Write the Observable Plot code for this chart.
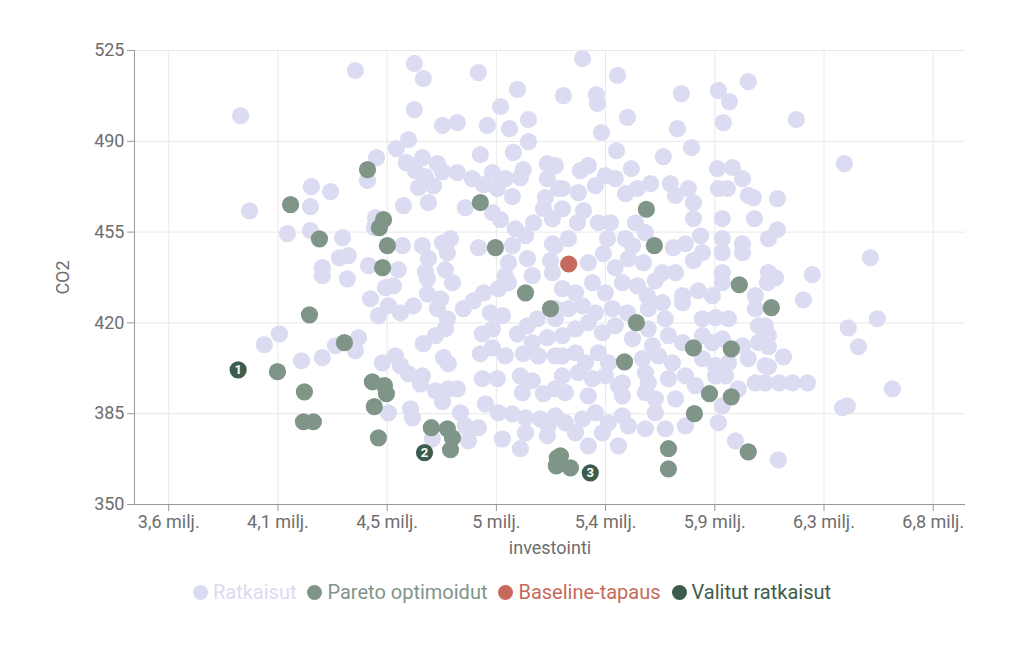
<!DOCTYPE html>
<html>
<head>
<meta charset="utf-8">
<script src="https://cdn.jsdelivr.net/npm/d3@7"></script>
<script src="https://cdn.jsdelivr.net/npm/@observablehq/plot@0.6"></script>
<style>
  html, body { margin: 0; padding: 0; background: #fff; }
  body { width: 1024px; height: 645px; overflow: hidden; font-family: Roboto, "Noto Sans", sans-serif; }
  #legend { display: flex; justify-content: center; align-items: center; gap: 11px; margin-top: 17px; margin-left: 0px; font-size: 20px; line-height: 20px; }
  #legend .item { display: flex; align-items: center; }
  #legend .sw { width: 15px; height: 15px; border-radius: 50%; margin-right: 5px; }
</style>
</head>
<body>
<div id="chart"></div>
<div id="legend"></div>
<script>
// ---- Data (investointi in millions of euros, CO2) ----
const xTicks = [3.65, 4.1, 4.55, 5.0, 5.45, 5.9, 6.35, 6.8];
const xTickLabels = ["3,6 milj.", "4,1 milj.", "4,5 milj.", "5 milj.", "5,4 milj.", "5,9 milj.", "6,3 milj.", "6,8 milj."];
const yTicks = [350, 385, 420, 455, 490, 525];

const ratkaisut = [
[3.946,499.9],[3.983,463.2],[4.139,454.4],[4.238,472.5],[4.317,470.6],[4.234,464.8],[4.234,455.6],[4.366,452.9],[4.353,445.1],[4.390,445.9],
[4.283,441.3],[4.386,437.0],[4.283,438.2],[4.044,411.6],[4.106,415.8],[4.197,405.4],[4.283,406.6],[4.337,411.2],
[4.419,517.3],[4.662,520.0],[4.699,514.2],[4.926,516.5],[5.087,510.0],[4.662,502.2],[5.017,503.4],[5.132,498.4],[4.778,496.1],
[4.839,497.2],[4.963,496.1],[5.054,494.9],[5.132,489.9],[4.638,490.7],[4.588,487.2],[4.506,483.7],[4.934,484.9],[5.070,485.7],[4.629,481.8],
[4.695,483.7],[4.757,481.4],[4.666,478.7],[4.707,476.4],[4.778,478.3],[4.839,477.9],[4.901,475.6],[4.984,477.9],[5.037,475.6],[5.111,479.1],
[5.099,476.0],[5.210,481.4],[5.210,475.6],[5.256,471.8],[4.469,474.9],[4.679,472.2],[4.741,472.9],[4.947,473.3],[5.004,471.8],[5.066,468.7],
[4.720,466.4],[4.617,465.2],[4.872,464.4],[4.984,462.5],[5.017,459.8],[5.202,468.3],[5.194,464.1],[5.153,458.6],[5.231,460.2],[5.078,456.3],
[5.120,453.6],[4.502,460.6],[4.497,456.7],[4.613,449.8],[4.695,449.8],[4.778,450.9],[4.811,452.5],[4.798,447.1],
[4.926,449.0],[4.720,444.8],[4.473,442.1],[4.596,440.5],[4.708,439.7],[4.790,440.5],[5.066,449.8],[5.050,443.2],[5.128,444.8],[5.231,450.5],
[5.223,444.0],[5.037,438.2],[5.148,438.2],[5.231,439.4],
[5.355,521.9],[5.499,515.4],[5.276,507.6],[5.412,508.0],[5.416,504.6],[5.762,508.4],[5.915,509.6],[5.960,505.3],[6.038,513.0],[5.540,499.2],
[5.433,493.4],[5.746,494.9],[5.935,497.2],[5.495,486.4],[5.688,484.1],[5.804,487.6],[5.556,479.5],[5.911,479.5],[5.973,479.9],[6.014,475.6],
[6.059,468.3],[6.038,469.1],[5.915,471.8],[5.952,471.8],[5.379,480.6],[5.346,478.7],[5.243,480.6],[5.272,471.8],[5.338,470.2],[5.408,472.9],
[5.449,476.8],[5.490,475.6],[5.532,469.8],[5.581,471.8],[5.635,473.7],[5.717,473.7],[5.738,469.1],[5.791,471.8],[5.812,466.3],[5.812,460.2],
[5.931,460.2],[6.063,460.2],[5.272,464.0],[5.359,463.3],[5.334,458.6],[5.420,458.6],[5.470,458.6],[5.573,458.6],[5.614,454.8],[5.532,452.5],
[5.458,452.5],[5.297,452.5],[5.243,449.8],[5.441,446.7],[5.561,449.8],[5.729,449.0],[5.779,450.5],[5.841,453.6],[5.849,447.1],[5.812,444.0],
[5.931,452.5],[5.931,447.1],[6.014,450.5],[6.014,447.1],[6.121,452.5],[5.379,443.2],[5.490,441.3],[5.544,444.8],[5.606,443.2],[5.684,439.4],
[5.738,439.4],[5.931,439.4],[6.121,439.4],
[6.236,498.4],[6.434,481.4],[6.158,467.9],[6.158,455.9],[6.541,445.1],[6.302,438.6],
[6.150,437.4],[6.265,428.9],[6.570,421.6],[6.450,418.1],[6.492,410.8],[6.121,410.8],[6.183,406.9],[6.121,403.1],[6.166,396.9],[6.220,396.9],
[6.282,396.9],[6.108,396.9],[6.632,394.6],[6.426,387.3],[6.446,388.0],[6.162,367.2],[6.108,418.9],
[4.481,429.3],[4.543,433.6],[4.576,434.3],[4.555,426.6],[4.514,422.8],[4.605,423.9],[4.658,426.6],[4.716,431.2],[4.770,429.3],
[4.757,425.5],[4.716,437.0],[4.819,435.5],[4.798,421.6],[4.790,417.8],[4.749,415.1],[4.699,412.0],[4.864,425.5],[4.905,428.5],[4.947,431.6],
[5.008,433.2],[5.050,435.5],[4.975,423.9],[5.025,422.8],[4.942,415.8],[4.984,417.7],[4.934,408.1],[4.984,410.4],[5.037,407.3],[5.087,415.8],
[5.128,418.9],[5.169,421.6],[5.210,414.3],[5.148,412.4],[5.111,408.1],[5.173,407.3],[5.243,421.6],[5.243,407.3],[4.432,414.3],[4.419,409.3],
[4.530,404.6],[4.584,407.3],[4.605,403.5],[4.638,400.4],[4.695,399.6],[4.687,396.5],[4.782,406.6],[4.802,404.3],[4.942,398.5],[5.004,398.5],
[5.099,399.6],[5.148,397.7],[4.749,393.8],[4.802,394.6],[4.839,394.6],[4.778,389.6],[5.107,393.1],[5.194,392.7],[5.243,394.6],[4.955,388.8],
[5.008,385.4],[5.066,384.9],[5.120,383.4],[5.181,383.0],[5.243,384.2],[4.555,385.3],[4.646,386.9],[4.654,383.4],[4.852,385.3],[4.872,380.3],
[4.926,379.6],[4.885,374.5],[4.736,375.3],[5.025,375.3],[5.120,377.6],[5.099,371.5],[5.210,376.5],[5.214,380.3],
[5.272,433.2],[5.326,431.6],[5.396,435.5],[5.449,431.6],[5.519,435.5],[5.581,434.3],[5.622,430.5],[5.684,427.8],[5.655,436.3],[5.767,430.5],
[5.767,427.8],[5.832,432.4],[5.890,430.5],[5.931,435.5],[6.067,430.5],[6.067,425.5],[6.117,435.5],[5.243,425.5],[5.297,425.5],[5.355,426.6],
[5.408,423.9],[5.478,425.5],[5.540,423.9],[5.626,425.5],[5.696,421.6],[5.849,421.6],[5.903,422.0],[5.956,421.6],[6.080,418.9],[5.272,415.1],
[5.326,417.7],[5.379,420.1],[5.437,416.2],[5.490,418.9],[5.561,413.9],[5.626,417.7],[5.643,411.2],[5.709,415.1],[5.767,412.4],[5.849,415.1],
[5.890,412.4],[5.931,413.9],[6.014,411.2],[6.080,412.4],[6.121,415.1],[5.272,407.3],[5.326,408.5],[5.367,404.6],[5.420,408.5],[5.462,404.6],
[5.602,406.2],[5.668,407.3],[5.725,404.6],[5.849,406.2],[5.903,403.5],[5.956,404.6],[6.038,406.2],[6.108,403.5],[5.272,399.6],[5.338,400.8],
[5.396,398.5],[5.449,399.6],[5.519,396.9],[5.614,400.8],[5.626,396.9],[5.709,398.5],[5.779,399.6],[5.820,395.8],[5.903,399.6],[5.944,399.6],
[5.997,394.6],[6.067,396.9],[5.284,393.1],[5.379,391.9],[5.503,395.8],[5.519,391.9],[5.614,393.1],[5.655,390.7],[5.738,390.7],[5.931,388.0],
[5.284,381.5],[5.355,383.0],[5.408,385.3],[5.462,381.5],[5.519,384.2],[5.544,380.3],[5.614,379.2],[5.655,385.3],[5.696,379.2],[5.779,380.3],
[5.915,381.5],[5.985,374.5],[5.379,372.6],[5.503,372.6],[5.326,377.6],[5.437,377.6]
];

const pareto = [
[4.469,479.1],[4.152,465.6],[4.271,452.4],[4.535,459.8],[4.518,456.7],[4.551,449.8],[4.531,441.3],[4.934,466.4],[4.996,449.0],[5.618,463.8],
[5.651,449.8],[5.120,431.6],[5.223,425.5],[4.374,412.4],[4.489,397.3],[4.539,395.8],[4.547,392.7],[4.497,387.7],[4.514,375.7],[4.732,379.6],
[4.798,379.2],[4.819,375.7],[4.811,371.1],[5.251,368.0],[5.247,364.9],[5.264,368.8],[5.305,364.1],[5.577,420.1],[5.528,405.0],[5.812,410.4],
[5.968,410.0],[5.878,392.7],[5.968,391.5],[5.816,385.0],[5.709,371.5],[5.709,363.7],[6.038,370.3],[6.001,434.7],[6.133,425.9],[4.230,423.1],
[4.098,401.2],[4.209,393.4],[4.205,381.9],[4.246,381.9]
];

const baseline = [[5.298, 442.7]];

const valitut = [[3.936, 401.9], [4.704, 370.0], [5.387, 362.2]];
const valitutLabels = ["1", "2", "3"];

const seriesNames = ["Ratkaisut", "Pareto optimoidut", "Baseline-tapaus", "Valitut ratkaisut"];
const seriesColors = ["#dbdbf2", "#7f9588", "#c66b5b", "#3c5c4d"];

// ---- Chart ----
const tickLabelOf = new Map(xTicks.map((t, i) => [t, xTickLabels[i]]));
const valitutData = valitut.map((d, i) => ({x: d[0], y: d[1], label: valitutLabels[i]}));
const R = 8.6;

const chart = Plot.plot({
  width: 1024,
  height: 565,
  marginTop: 50,
  marginBottom: 61,
  marginLeft: 134,
  marginRight: 59,
  style: {fontFamily: "Roboto, 'Noto Sans', sans-serif", fontSize: "18px", color: "#6e6e6e", background: "#fff"},
  x: {domain: [3.509, 6.933]},
  y: {domain: [350, 525]},
  marks: [
    Plot.gridX(xTicks, {stroke: "#e8e8e8", strokeOpacity: 1}),
    Plot.gridY(yTicks, {stroke: "#e8e8e8", strokeOpacity: 1}),
    Plot.axisX(xTicks, {tickFormat: d => tickLabelOf.get(d), tickSize: 7, tickPadding: 4, stroke: "#999", fontSize: 18, label: "investointi", labelAnchor: "center", labelArrow: "none", labelOffset: 49, fill: "#6e6e6e"}),
    Plot.axisY(yTicks, {tickSize: 7, tickPadding: 3, stroke: "#999", fontSize: 18, label: "CO2", labelAnchor: "center", labelArrow: "none", labelOffset: 78, fill: "#6e6e6e"}),
    Plot.ruleX([3.509], {stroke: "#999"}),
    Plot.ruleY([350], {stroke: "#999"}),
    Plot.dot(ratkaisut, {x: d => d[0], y: d => d[1], r: R, fill: seriesColors[0], stroke: "none"}),
    Plot.dot(pareto, {x: d => d[0], y: d => d[1], r: R, fill: seriesColors[1], stroke: "none"}),
    Plot.dot(baseline, {x: d => d[0], y: d => d[1], r: R, fill: seriesColors[2], stroke: "none"}),
    Plot.dot(valitutData, {x: "x", y: "y", r: R, fill: seriesColors[3], stroke: "none"}),
    Plot.text(valitutData, {x: "x", y: "y", text: "label", fill: "#fff", fontWeight: "bold", fontSize: 13})
  ]
});
document.getElementById("chart").appendChild(chart);

// ---- Legend ----
const legend = document.getElementById("legend");
seriesNames.forEach((name, i) => {
  const item = document.createElement("div");
  item.className = "item";
  const sw = document.createElement("span");
  sw.className = "sw";
  sw.style.background = seriesColors[i];
  const tx = document.createElement("span");
  tx.textContent = name;
  tx.style.color = seriesColors[i];
  item.appendChild(sw);
  item.appendChild(tx);
  legend.appendChild(item);
});
</script>
</body>
</html>
